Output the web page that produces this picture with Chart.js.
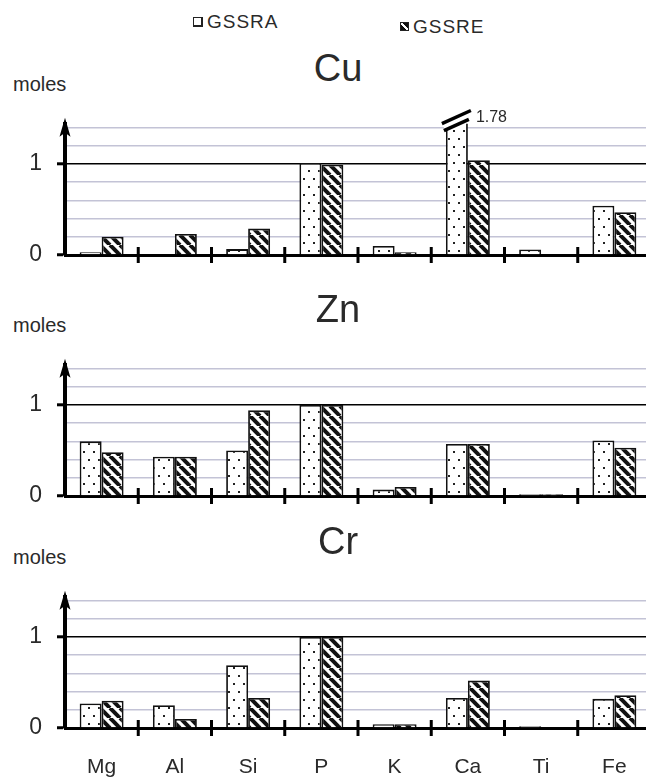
<!DOCTYPE html>
<html><head><meta charset="utf-8">
<script src="https://cdn.jsdelivr.net/npm/chart.js@4/dist/chart.umd.min.js"></script>
<style>
html,body{margin:0;padding:0;background:#fff;width:646px;height:780px;overflow:hidden;position:relative;font-family:'Liberation Sans',Arial,sans-serif;color:#2a2a2a}
canvas.panel{position:absolute;left:0}
.t{position:absolute;white-space:nowrap;line-height:1}
.title{font-size:38px;transform:translateX(-50%)}
.moles{font-size:20px}
.leg{font-size:19px;letter-spacing:1px}
.box{position:absolute;width:7px;height:7px;border:1.5px solid #222}
</style></head><body>

<div class="box" style="left:193px;top:17px;background:#fff;border-right-width:2.5px;border-bottom-width:2.5px"></div>
<div class="t leg" style="left:207px;top:12px">GSSRA</div>
<div class="box" style="left:400px;top:22px;background:linear-gradient(45deg,#111 0 38%,#fff 38% 62%,#111 62%)"></div>
<div class="t leg" style="left:413px;top:17px">GSSRE</div>

<div class="t title" style="left:338px;top:49px">Cu</div>
<div class="t moles" style="left:13px;top:74px">moles</div>
<canvas id="cu" class="panel" width="660" height="210" style="top:95px"></canvas>

<div class="t title" style="left:338px;top:290px">Zn</div>
<div class="t moles" style="left:13px;top:315px">moles</div>
<canvas id="zn" class="panel" width="660" height="210" style="top:336px"></canvas>

<div class="t title" style="left:338px;top:522px">Cr</div>
<div class="t moles" style="left:13px;top:547px">moles</div>
<canvas id="cr" class="panel" width="660" height="210" style="top:568px"></canvas>

<script>
// ---- data ----
const elements = ['Mg','Al','Si','P','K','Ca','Ti','Fe'];
const seriesNames = ['GSSRA','GSSRE'];
const cuGSSRA = [0.03, 0, 0.065, 1.01, 0.10, 1.78, 0.06, 0.54];
const cuGSSRE = [0.20, 0.23, 0.29, 0.99, 0.03, 1.04, 0, 0.47];
const znGSSRA = [0.60, 0.43, 0.50, 1.00, 0.07, 0.57, 0.02, 0.61];
const znGSSRE = [0.48, 0.43, 0.94, 1.00, 0.10, 0.57, 0.02, 0.53];
const crGSSRA = [0.27, 0.25, 0.69, 1.00, 0.04, 0.33, 0.02, 0.32];
const crGSSRE = [0.30, 0.10, 0.33, 1.00, 0.04, 0.52, 0.01, 0.36];
const yLabeledTicks = [0, 1];
const yMax = 1.44;
const yStep = 0.2;

const FONT = "'Liberation Sans', Arial, sans-serif";

// ---- patterns ----
function dotPattern(){
  const c = document.createElement('canvas'); c.width = 10; c.height = 16;
  const g = c.getContext('2d');
  g.fillStyle = '#fff'; g.fillRect(0,0,10,16);
  g.fillStyle = '#222';
  g.fillRect(3,3,2,2); g.fillRect(8,11,2,2);
  return g.createPattern(c,'repeat');
}
function hatchPattern(){
  const s = 10;
  const c = document.createElement('canvas'); c.width = s; c.height = s;
  const g = c.getContext('2d');
  g.fillStyle = '#fff'; g.fillRect(0,0,s,s);
  g.strokeStyle = '#111'; g.lineWidth = 4;
  for (const x0 of [-s, 0, s]) { g.beginPath(); g.moveTo(x0,0); g.lineTo(x0+s,s); g.stroke(); }
  return g.createPattern(c,'repeat');
}
const isVal = (v, t) => Math.abs(v - t) < 1e-6;

const decorPlugin = {
  id: 'decor',
  afterDraw(chart){
    const ctx = chart.ctx, area = chart.chartArea, xs = chart.scales.x;
    ctx.save();
    ctx.fillStyle = '#000';
    const ax = area.left;
    ctx.beginPath();
    ctx.moveTo(ax, area.top - 6);
    ctx.lineTo(ax + 5.5, area.top + 13);
    ctx.lineTo(ax, area.top + 9);
    ctx.lineTo(ax - 5.5, area.top + 13);
    ctx.closePath(); ctx.fill();
    ctx.strokeStyle = '#000'; ctx.lineWidth = 3;
    for (let i = 0; i < elements.length - 1; i++) {
      const xb = (xs.getPixelForValue(i) + xs.getPixelForValue(i+1)) / 2;
      ctx.beginPath(); ctx.moveTo(xb, area.bottom - 8); ctx.lineTo(xb, area.bottom + 8); ctx.stroke();
    }
    ctx.restore();
  }
};

const breakPlugin = {
  id: 'breakMark',
  afterDatasetsDraw(chart){
    const ctx = chart.ctx, area = chart.chartArea;
    chart.data.datasets.forEach((ds, di) => {
      const meta = chart.getDatasetMeta(di);
      ds.data.forEach((v, i) => {
        if (v <= yMax) return;
        const bar = meta.data[i];
        const half = bar.width / 2, xl = bar.x - half, xr = bar.x + half;
        const k = -0.45;
        const yL = x => area.top + 1 + (x - bar.x) * k;
        const yU = x => area.top - 7 + (x - bar.x) * k;
        ctx.save();
        ctx.fillStyle = '#fff';
        ctx.beginPath();
        ctx.moveTo(xl - 2, yL(xl - 2)); ctx.lineTo(xr + 2, yL(xr + 2));
        ctx.lineTo(xr + 2, area.top - 20); ctx.lineTo(xl - 2, area.top - 20);
        ctx.closePath(); ctx.fill();
        ctx.strokeStyle = '#000'; ctx.lineWidth = 3.5;
        ctx.beginPath(); ctx.moveTo(xl - 2, yL(xl - 2)); ctx.lineTo(xr + 1, yL(xr + 1)); ctx.stroke();
        ctx.beginPath(); ctx.moveTo(xl - 4, yU(xl - 4)); ctx.lineTo(xr + 3, yU(xr + 3)); ctx.stroke();
        ctx.fillStyle = '#2a2a2a'; ctx.font = '16px ' + FONT;
        ctx.textBaseline = 'alphabetic'; ctx.textAlign = 'left';
        ctx.fillText(String(v), xr + 8, area.top - 2);
        ctx.restore();
      });
    });
  }
};

function makeChart(id, a, e, showX, plugins){
  const ctx = document.getElementById(id).getContext('2d');
  return new Chart(ctx, {
    type: 'bar',
    data: { labels: elements, datasets: [
      { label: seriesNames[0], data: a, backgroundColor: dotPattern(), borderColor: '#111', borderWidth: 1.8, clip: 0 },
      { label: seriesNames[1], data: e, backgroundColor: hatchPattern(), borderColor: '#111', borderWidth: 1.8, clip: 0 }
    ]},
    options: {
      responsive: false, animation: false, devicePixelRatio: 1,
      layout: { padding: { top: 12, right: 9, left: 0, bottom: 0 } },
      datasets: { bar: { categoryPercentage: 0.6, barPercentage: 1.0 } },
      plugins: { legend: { display: false }, tooltip: { enabled: false }, title: { display: false } },
      scales: {
        x: {
          grid: { display: true, drawOnChartArea: false, drawTicks: false },
          border: { display: true, color: '#000', width: 3 },
          ticks: { display: showX, font: { family: FONT, size: 21 }, color: '#2a2a2a', padding: 27, maxRotation: 0, autoSkip: false },
          afterFit(s){ s.height = 50; }
        },
        y: {
          min: 0, max: yMax,
          ticks: {
            stepSize: yStep, includeBounds: false, autoSkip: false,
            callback: v => { const t = yLabeledTicks.find(tt => isVal(v, tt)); return t === undefined ? '' : String(t); },
            font: { family: FONT, size: 23 }, color: '#2a2a2a', padding: 15
          },
          grid: {
            color: c => isVal(c.tick.value, 1) ? '#000' : (isVal(c.tick.value, 0) ? 'rgba(0,0,0,0)' : '#c3c3d6'),
            lineWidth: c => isVal(c.tick.value, 1) ? 1.6 : 1.5,
            tickColor: c => yLabeledTicks.some(t => isVal(c.tick.value, t)) ? '#000' : 'rgba(0,0,0,0)',
            tickLength: 8, tickWidth: 3
          },
          border: { display: true, color: '#000', width: 4 },
          afterFit(s){ s.width = 65; }
        }
      }
    },
    plugins: plugins
  });
}

makeChart('cu', cuGSSRA, cuGSSRE, false, [decorPlugin, breakPlugin]);
makeChart('zn', znGSSRA, znGSSRE, false, [decorPlugin]);
makeChart('cr', crGSSRA, crGSSRE, true, [decorPlugin]);
</script>
</body></html>
